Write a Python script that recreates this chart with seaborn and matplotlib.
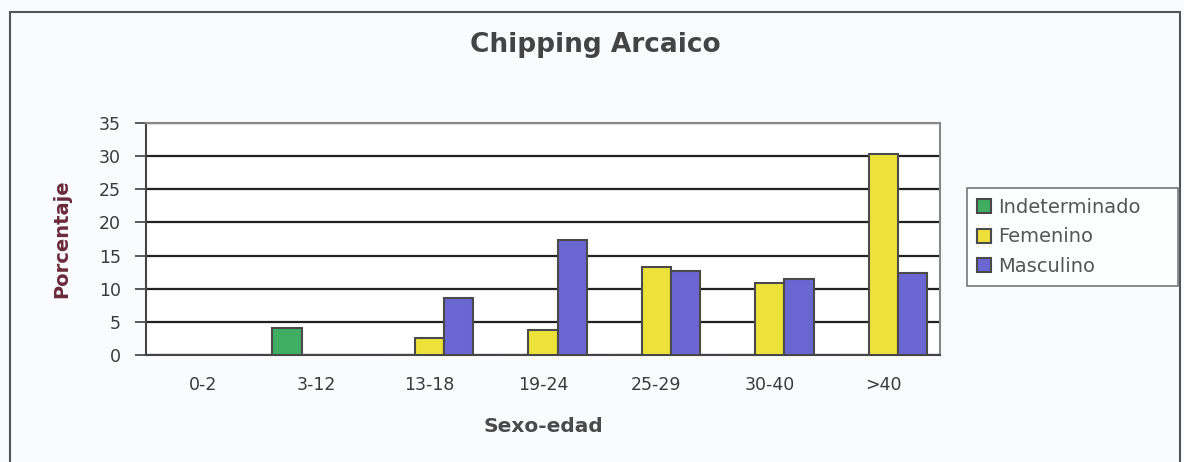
import matplotlib
matplotlib.use("Agg")
import matplotlib.pyplot as plt
import seaborn as sns
import pandas as pd
import numpy as np

categories = ["0-2", "3-12", "13-18", "19-24", "25-29", "30-40", ">40"]
indeterminado = [0, 4.0, 0, 0, 0, 0, 0]
femenino = [0, 0, 2.5, 3.7, 13.3, 10.9, 30.3]
masculino = [0, 0, 8.6, 17.4, 12.6, 11.5, 12.4]
series_names = ["Indeterminado", "Femenino", "Masculino"]
yticks = [0, 5, 10, 15, 20, 25, 30, 35]

rows = []
for name, vals in zip(series_names, [indeterminado, femenino, masculino]):
    for c, v in zip(categories, vals):
        rows.append({"Sexo-edad": c, "Serie": name, "Porcentaje": v})
df = pd.DataFrame(rows)

sns.set_theme(style="white")
plt.rcParams["font.family"] = ["DejaVu Sans"]

fig = plt.figure(figsize=(11.84, 4.62), dpi=100)
fig.patch.set_facecolor("#f9fbfc")
W, H = 1184, 462
ax = fig.add_axes([146 / W, 1 - 355 / H, (940 - 146) / W, (355 - 123) / H])
ax.set_facecolor("white")

palette = {"Indeterminado": "#3fae62", "Femenino": "#ece23a", "Masculino": "#6a66d2"}
sns.barplot(data=df, x="Sexo-edad", y="Porcentaje", hue="Serie", hue_order=series_names,
            order=categories, palette=palette, width=0.77, edgecolor="#4a4a4a",
            linewidth=1.5, saturation=1, ax=ax, legend=True, zorder=3)

ax.set_ylim(0, 35)
ax.set_yticks(yticks)
ax.set_xlim(-0.5, len(categories) - 0.5)
ax.yaxis.grid(True, color="#222222", linewidth=1.6, zorder=0)
ax.set_axisbelow(True)
for s in ["top", "right"]:
    ax.spines[s].set_color("#888888")
    ax.spines[s].set_linewidth(1.5)
for s in ["left", "bottom"]:
    ax.spines[s].set_color("#444444")
    ax.spines[s].set_linewidth(1.5)

ax.tick_params(axis="x", which="major", length=0, pad=15, labelsize=12.5, labelcolor="#3a3a3a")
ax.set_xticks(np.arange(-0.5, len(categories)), minor=True)
ax.tick_params(axis="x", which="minor", length=6, direction="out", color="#666666")
ax.tick_params(axis="y", length=8, direction="out", color="#444444", labelsize=12.5,
               labelcolor="#3a3a3a", left=True, pad=10)

ax.set_xlabel("Sexo-edad", fontsize=14.5, fontweight="bold", color="#4a4a4a", labelpad=17)
ax.set_ylabel("Porcentaje", fontsize=14, fontweight="bold", color="#6b2a3a", labelpad=20)

fig.text(595 / W, 1 - 45 / H, "Chipping Arcaico", ha="center", va="center",
         fontsize=19, fontweight="bold", color="#444444")

handles, labels = ax.get_legend_handles_labels()
ax.legend_.remove()
leg = fig.legend(handles, labels, loc="upper left",
                 bbox_to_anchor=(967 / W, 1 - 287 / H, (1178 - 967) / W, (287 - 188) / H),
                 mode="expand", frameon=True, fancybox=False, fontsize=14,
                 handlelength=0.75, handleheight=0.75,
                 handletextpad=0.35, labelspacing=0.55, borderpad=0.5, borderaxespad=0)
leg.get_frame().set_edgecolor("#555555")
leg.get_frame().set_linewidth(1.2)
leg.get_frame().set_facecolor("white")
for t in leg.get_texts():
    t.set_color("#555555")

# outer chart border
border = plt.Rectangle((10 / W, -0.05), (1180 - 10) / W, (1 - 12 / H) + 0.05,
                       transform=fig.transFigure, fill=False, edgecolor="#555555", linewidth=1.5)
fig.add_artist(border)

fig.savefig("out.png", dpi=100, facecolor=fig.get_facecolor())
